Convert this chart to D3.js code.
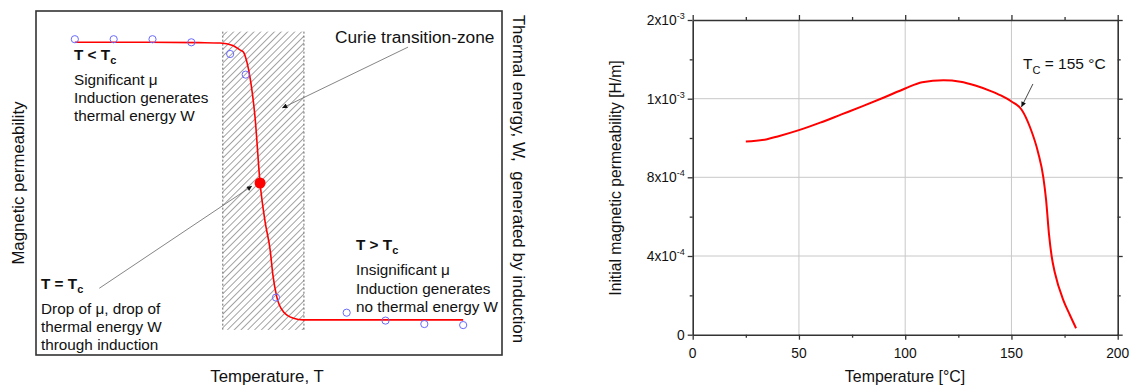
<!DOCTYPE html>
<html>
<head>
<meta charset="utf-8">
<script src="https://cdn.jsdelivr.net/npm/d3@7"></script>
<style>
body { margin: 0; background: #fff; }
svg { display: block; font-family: "Liberation Sans", Arial, sans-serif; }
</style>
</head>
<body>
<svg id="chart" width="1130" height="385"></svg>
<script>
// ---- left panel: schematic (arbitrary temperature steps, normalised permeability)
const schemT  = [1.0, 2.9, 4.2, 4.74, 5.07, 5.25, 5.34, 5.43, 5.51, 5.64, 5.77, 5.9, 6.03, 6.1, 6.2, 6.37, 6.63, 6.88, 11.0];
const schemMu = [0.909, 0.909, 0.908, 0.907, 0.9, 0.887, 0.881, 0.852, 0.808, 0.692, 0.5, 0.387, 0.305, 0.233, 0.169, 0.126, 0.107, 0.102, 0.102];
const measT  = [1, 2, 3, 4, 5, 5.4, 6.18, 8, 9, 10, 11];
const measMu = [0.918, 0.918, 0.918, 0.909, 0.875, 0.815, 0.167, 0.123, 0.1, 0.09, 0.087];
const curiePoint = [5.77, 0.5];
const zoneT  = [4.81, 6.9];
const zoneMu = [0.073, 0.94];

// ---- right panel: measured initial permeability
const tempC = [25, 35, 40, 50, 60, 70, 80, 90, 100, 108, 118, 126, 133, 140, 145, 150, 154.8, 158.7, 162.6, 165.0, 166.3, 167.7, 168.9, 170.5, 174.4, 177.5, 180.4];
const permeability = [8.91e-4, 8.97e-4, 9.04e-4, 9.2e-4, 9.39e-4, 9.6e-4, 9.81e-4, 1.015e-3, 1.13e-3, 1.21e-3, 1.234e-3, 1.216e-3, 1.168e-3, 1.1e-3, 1.041e-3, 9.93e-4, 9.72e-4, 9.28e-4, 8.62e-4, 8.0e-4, 6.85e-4, 5.07e-4, 4.0e-4, 3.12e-4, 1.76e-4, 1.0e-4, 0.33e-4];
const xTicks = [0, 50, 100, 150, 200];
const xMinor = [25, 75, 125, 175];
const xGrid = [50, 100, 150];
const yTicks = [0, 4e-4, 8e-4, 1e-3, 2e-3];
const yTickMant = ["0", "4x10", "8x10", "1x10", "2x10"];
const yTickExp  = ["", "-4", "-4", "-3", "-3"];
const yMinor = [2e-4, 6e-4, 9e-4, 1.5e-3];
const yGrid = [4e-4, 8e-4, 1e-3];

const svg = d3.select("#chart");
const ink = "#111";

const defs = svg.append("defs");
defs.append("marker")
    .attr("id", "arrow")
    .attr("viewBox", "0 0 10 10")
    .attr("refX", 10).attr("refY", 5)
    .attr("markerWidth", 7).attr("markerHeight", 5)
    .attr("markerUnits", "userSpaceOnUse")
    .attr("orient", "auto")
    .append("path").attr("d", "M0,0L10,5L0,10z").attr("fill", "#111");
defs.append("pattern")
    .attr("id", "hatch")
    .attr("patternUnits", "userSpaceOnUse")
    .attr("width", 4.8).attr("height", 4.8)
    .attr("patternTransform", "rotate(45)")
    .append("line")
    .attr("x1", 0).attr("y1", 0).attr("x2", 0).attr("y2", 4.8)
    .attr("stroke", "#333").attr("stroke-width", 0.9);

// ================= left panel =================
const xL = d3.scaleLinear().domain([0, 12]).range([36, 502]);
const yL = d3.scaleLinear().domain([0, 1]).range([355, 11]);
const left = svg.append("g");

left.append("rect")
    .attr("x", xL(zoneT[0])).attr("y", yL(zoneMu[1]))
    .attr("width", xL(zoneT[1]) - xL(zoneT[0]))
    .attr("height", yL(zoneMu[0]) - yL(zoneMu[1]))
    .attr("fill", "url(#hatch)");
left.selectAll("line.zone")
    .data(zoneT)
    .enter().append("line")
    .attr("class", "zone")
    .attr("x1", d => xL(d)).attr("x2", d => xL(d))
    .attr("y1", yL(zoneMu[1])).attr("y2", yL(zoneMu[0]))
    .attr("stroke", "#666").attr("stroke-width", 1)
    .attr("stroke-dasharray", "2,2");

left.append("rect")
    .attr("x", xL(0)).attr("y", yL(1))
    .attr("width", xL(12) - xL(0)).attr("height", yL(0) - yL(1))
    .attr("fill", "none").attr("stroke", "#333").attr("stroke-width", 1.6);

left.append("path")
    .datum(d3.zip(schemT, schemMu))
    .attr("fill", "none").attr("stroke", "#ff0000").attr("stroke-width", 1.6)
    .attr("d", d3.line().x(d => xL(d[0])).y(d => yL(d[1])).curve(d3.curveMonotoneX));

left.selectAll("circle.meas")
    .data(d3.zip(measT, measMu))
    .enter().append("circle")
    .attr("class", "meas")
    .attr("cx", d => xL(d[0])).attr("cy", d => yL(d[1]))
    .attr("r", 3.6)
    .attr("fill", "none").attr("stroke", "#6a6aff").attr("stroke-width", 1);

left.append("circle")
    .attr("cx", xL(curiePoint[0])).attr("cy", yL(curiePoint[1]))
    .attr("r", 5.5).attr("fill", "#ff0000");

// annotation arrows
const leftArrows = [
    [[9.58, 0.895], [6.34, 0.718]],
    [[1.63, 0.194], [5.56, 0.491]]
];
left.selectAll("line.arr")
    .data(leftArrows)
    .enter().append("line")
    .attr("class", "arr")
    .attr("x1", d => xL(d[0][0])).attr("y1", d => yL(d[0][1]))
    .attr("x2", d => xL(d[1][0])).attr("y2", d => yL(d[1][1]))
    .attr("stroke", "#777").attr("stroke-width", 0.9)
    .attr("marker-end", "url(#arrow)");

function block(g, x, y, head, lines, dy) {
    const t = g.append("text").attr("x", x).attr("y", y)
        .attr("font-size", 15.3).attr("fill", ink).attr("font-weight", "bold");
    t.append("tspan").text(head);
    t.append("tspan").attr("font-size", 11).attr("dy", 4).text("c");
    lines.forEach((s, i) => {
        g.append("text").attr("x", x).attr("y", y + 25 + i * dy)
            .attr("font-size", 15.3).attr("fill", ink).text(s);
    });
}
block(left, 74, 60, "T < T", ["Significant μ", "Induction generates", "thermal energy W"], 18);
block(left, 41, 289, "T = T", ["Drop of μ, drop of", "thermal energy W", "through induction"], 18.2);
block(left, 356, 250, "T > T", ["Insignificant μ", "Induction generates", "no thermal energy W"], 18.5);

left.append("text").attr("x", 335).attr("y", 43)
    .attr("font-size", 17.3).attr("fill", ink).text("Curie transition-zone");

left.append("text")
    .attr("transform", "translate(24,183) rotate(-90)")
    .attr("text-anchor", "middle").attr("font-size", 16.8).attr("fill", ink)
    .text("Magnetic permeability");
left.append("text")
    .attr("x", 267).attr("y", 382)
    .attr("text-anchor", "middle").attr("font-size", 16.8).attr("fill", ink)
    .text("Temperature, T");
left.append("text")
    .attr("transform", "translate(513,179) rotate(90)")
    .attr("text-anchor", "middle").attr("font-size", 17).attr("fill", ink)
    .attr("xml:space", "preserve")
    .text("Thermal energy, W,  generated by induction");

// ================= right panel =================
const x = d3.scaleLinear().domain([0, 200]).range([692.7, 1117.7]);
const y = d3.scaleLinear().domain(yTicks).range([334.7, 256, 177.3, 98.7, 20]);
const right = svg.append("g");

right.selectAll("line.gx")
    .data(xGrid).enter().append("line")
    .attr("x1", d => x(d)).attr("x2", d => x(d))
    .attr("y1", y(0)).attr("y2", y(2e-3))
    .attr("stroke", "#c8c8c8").attr("stroke-width", 1);
right.selectAll("line.gy")
    .data(yGrid).enter().append("line")
    .attr("y1", d => y(d)).attr("y2", d => y(d))
    .attr("x1", x(0)).attr("x2", x(200))
    .attr("stroke", "#c8c8c8").attr("stroke-width", 1);

function frame(axis, tx, ty, vals, size) {
    const g = right.append("g").attr("transform", `translate(${tx},${ty})`)
        .call(axis.tickValues(vals).tickSize(size).tickSizeOuter(0).tickFormat(""));
    g.select(".domain").attr("stroke", "#333").attr("stroke-width", 1.6);
    g.selectAll(".tick line").attr("stroke", "#333").attr("stroke-width", 1.3);
    return g;
}
frame(d3.axisBottom(x), 0, y(0), xTicks, 5);
frame(d3.axisBottom(x), 0, y(0), xMinor, 3).select(".domain").remove();
frame(d3.axisTop(x), 0, y(2e-3), xTicks, 5);
frame(d3.axisTop(x), 0, y(2e-3), xMinor, 3).select(".domain").remove();
frame(d3.axisLeft(y), x(0), 0, yTicks, 5);
frame(d3.axisLeft(y), x(0), 0, yMinor, 3).select(".domain").remove();
frame(d3.axisRight(y), x(200), 0, yTicks, 5);
frame(d3.axisRight(y), x(200), 0, yMinor, 3).select(".domain").remove();

right.selectAll("text.xt")
    .data(xTicks).enter().append("text")
    .attr("class", "xt")
    .attr("x", d => x(d)).attr("y", y(0) + 23)
    .attr("text-anchor", "middle").attr("font-size", 13.8).attr("fill", ink)
    .text(d => d);

const yt = right.selectAll("text.yt")
    .data(yTicks).enter().append("text")
    .attr("class", "yt")
    .attr("x", x(0) - 8).attr("y", d => y(d) + 5)
    .attr("text-anchor", "end").attr("font-size", 13.8).attr("fill", ink);
yt.append("tspan").text((d, i) => yTickMant[i]);
yt.append("tspan").attr("font-size", 9).attr("dy", -6).text((d, i) => yTickExp[i]);

right.append("path")
    .datum(d3.zip(tempC, permeability))
    .attr("fill", "none").attr("stroke", "#ff0000").attr("stroke-width", 2)
    .attr("d", d3.line().x(d => x(d[0])).y(d => y(d[1])).curve(d3.curveMonotoneX));

right.append("line")
    .attr("x1", x(160.1)).attr("y1", y(1.187e-3))
    .attr("x2", x(154.7)).attr("y2", y(9.79e-4))
    .attr("stroke", "#333").attr("stroke-width", 0.9)
    .attr("marker-end", "url(#arrow)");
const tc = right.append("text").attr("x", 1023).attr("y", 69)
    .attr("font-size", 15.5).attr("fill", ink);
tc.append("tspan").text("T");
tc.append("tspan").attr("font-size", 11).attr("dy", 5).text("C");
tc.append("tspan").attr("dy", -5).text(" = 155 °C");

right.append("text")
    .attr("transform", "translate(621,178) rotate(-90)")
    .attr("text-anchor", "middle").attr("font-size", 15.7).attr("fill", ink)
    .text("Initial magnetic permeability [H/m]");
right.append("text")
    .attr("x", 905).attr("y", 382)
    .attr("text-anchor", "middle").attr("font-size", 15.9).attr("fill", ink)
    .text("Temperature [°C]");
</script>
</body>
</html>
